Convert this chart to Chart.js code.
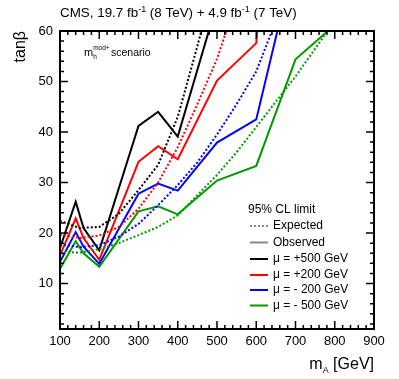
<!DOCTYPE html>
<html>
<head>
<meta charset="utf-8">
<script src="https://cdn.jsdelivr.net/npm/chart.js@4/dist/chart.umd.min.js"></script>
<style>
  html, body { margin: 0; padding: 0; background: #fff; }
  #wrap { width: 399px; height: 379px; position: relative; }
</style>
</head>
<body>
<div id="wrap"><canvas id="myChart"></canvas></div>
<script>
// axis ticks
const xTicks = [100, 200, 300, 400, 500, 600, 700, 800, 900];
const yTicks = [10, 20, 30, 40, 50, 60];

// observed limits (m_A in GeV, tan beta)
const obsMassP500 = [100, 140, 160, 200, 300, 350, 400, 500];
const obsP500 = [17, 26.2, 21, 16.6, 41.2, 44, 39.1, 65.5];
const obsMassP200 = [100, 140, 160, 200, 300, 350, 400, 500, 600, 620];
const obsP200 = [15.6, 22.9, 19, 14.7, 34.1, 37.2, 34.6, 50.2, 57.6, 75];
const obsMassM200 = [100, 140, 160, 200, 300, 350, 400, 500, 600, 700];
const obsM200 = [14.3, 20.2, 17.3, 13.9, 27.8, 29.8, 28.4, 37.9, 42.5, 75];
const obsMassM500 = [100, 140, 160, 200, 300, 350, 400, 500, 600, 700, 800];
const obsM500 = [12.9, 18.4, 16, 13.3, 24.3, 25.3, 23.7, 30.4, 33.3, 54.4, 61.2];

// expected limits
const expMass = [100, 150, 200, 250, 300, 350, 400, 450, 500, 550, 600, 650, 700, 750, 800];
const expP500 = [22.4, 21, 21.2, 23.8, 28.5, 33.5, 43, 57, 72];
const expP200 = [19.7, 19, 19.5, 21.2, 24.8, 30, 37, 45.5, 54.5, 66];
const expM200 = [17.8, 17.2, 17.6, 19.3, 21.8, 25.5, 29.5, 34, 39.5, 45.5, 52, 62];
const expM500 = [16.3, 16.1, 16.8, 18, 19.6, 21.2, 23.5, 27.5, 31.5, 36, 41, 46, 51, 56.5, 62];

const colP500 = "#000000";
const colP200 = "#ff0000";
const colM200 = "#0000ff";
const colM500 = "#009900";

const FONT = "'Liberation Sans', Arial, Helvetica, sans-serif";

const toPoints = (xs, ys) => ys.map((y, i) => ({ x: xs[i], y: y }));

const makeLine = (xs, ys, color, dashed) => ({
  data: toPoints(xs, ys),
  borderColor: color,
  backgroundColor: color,
  borderWidth: 2,
  borderDash: dashed ? [2, 2] : [],
  showLine: true,
  pointRadius: 0,
  tension: 0,
  fill: false,
});

// frame, inward ticks and all text labels
const decorations = {
  id: "decorations",
  afterDraw(chart) {
    const c = chart.ctx;
    const a = chart.chartArea;
    const xs = chart.scales.x;
    const ys = chart.scales.y;
    c.save();
    c.strokeStyle = "#000";
    c.lineWidth = 2;
    c.strokeRect(a.left, a.top, a.right - a.left, a.bottom - a.top);

    c.lineWidth = 1.5;
    c.beginPath();
    for (let v = 100; v <= 900; v += 20) {
      const px = xs.getPixelForValue(v);
      const len = v % 100 === 0 ? 8 : 4;
      c.moveTo(px, a.bottom); c.lineTo(px, a.bottom - len);
      c.moveTo(px, a.top); c.lineTo(px, a.top + len);
    }
    for (let v = 2; v <= 60; v += 2) {
      const py = ys.getPixelForValue(v);
      const len = v % 10 === 0 ? 8 : 4;
      c.moveTo(a.left, py); c.lineTo(a.left + len, py);
      c.moveTo(a.right, py); c.lineTo(a.right - len, py);
    }
    c.stroke();

    // title with superscripts
    c.fillStyle = "#000";
    c.textBaseline = "alphabetic";
    c.textAlign = "left";
    const parts = [
      ["CMS, 19.7 fb", 13.4, 0], ["-1", 9, -5], [" (8 TeV) + 4.9 fb", 13.4, 0], ["-1", 9, -5], [" (7 TeV)", 13.4, 0],
    ];
    let tx = 60;
    for (const [s, size, dy] of parts) {
      c.font = `${size}px ${FONT}`;
      c.fillText(s, tx, 17 + dy);
      tx += c.measureText(s).width;
    }

    // scenario label
    c.font = `11px ${FONT}`;
    c.fillText("m", 84, 56);
    let mx = 84 + c.measureText("m").width;
    c.font = `6.5px ${FONT}`;
    c.fillText("mod+", mx, 50);
    c.fillText("h", mx, 59);
    c.font = `10.5px ${FONT}`;
    c.fillText("scenario", 111, 56);

    // y title
    c.save();
    c.translate(25, 31);
    c.rotate(-Math.PI / 2);
    c.textAlign = "right";
    c.font = `16px ${FONT}`;
    c.fillText("tanβ", 0, 0);
    c.restore();

    // x title
    const t1 = "m", t3 = " [GeV]";
    c.font = `9px ${FONT}`;
    const wA = c.measureText("A").width;
    c.font = `16px ${FONT}`;
    const w1 = c.measureText(t1).width;
    const w3 = c.measureText(t3).width;
    let sx = 374 - (w1 + wA + w3);
    c.fillText(t1, sx, 369);
    c.font = `9px ${FONT}`;
    c.fillText("A", sx + w1, 373);
    c.font = `16px ${FONT}`;
    c.fillText(t3, sx + w1 + wA, 369);

    // legend
    c.font = `12px ${FONT}`;
    c.textBaseline = "middle";
    c.fillText("95% CL limit", 248, 210);
    const rows = [
      ["Expected", "#888", true, 226],
      ["Observed", "#888", false, 242.5],
      ["μ = +500 GeV", colP500, false, 259],
      ["μ = +200 GeV", colP200, false, 275],
      ["μ = - 200 GeV", colM200, false, 290],
      ["μ = - 500 GeV", colM500, false, 305.5],
    ];
    for (const [label, col, dashed, y] of rows) {
      c.strokeStyle = col;
      c.lineWidth = 2;
      c.setLineDash(dashed ? [2, 2] : []);
      c.beginPath();
      c.moveTo(250, y); c.lineTo(268, y);
      c.stroke();
      c.setLineDash([]);
      c.fillStyle = "#000";
      c.fillText(label, 273, y);
    }
    c.restore();
  },
};

const chart = new Chart(document.getElementById("myChart"), {
  type: "scatter",
  data: {
    datasets: [
      makeLine(expMass, expP500, colP500, true),
      makeLine(expMass, expP200, colP200, true),
      makeLine(expMass, expM200, colM200, true),
      makeLine(expMass, expM500, colM500, true),
      makeLine(obsMassP500, obsP500, colP500, false),
      makeLine(obsMassP200, obsP200, colP200, false),
      makeLine(obsMassM200, obsM200, colM200, false),
      makeLine(obsMassM500, obsM500, colM500, false),
    ],
  },
  options: {
    responsive: true,
    maintainAspectRatio: false,
    animation: false,
    layout: { padding: { left: 0, right: 25, top: 31, bottom: 0 } },
    plugins: { legend: { display: false }, tooltip: { enabled: false } },
    scales: {
      x: {
        type: "linear",
        min: 100,
        max: 900,
        afterBuildTicks: (s) => { s.ticks = xTicks.map((v) => ({ value: v })); },
        afterFit: (s) => { s.height = 50; },
        grid: { display: false, drawTicks: false },
        border: { display: false },
        ticks: { color: "#000", padding: 5, maxRotation: 0, font: { family: FONT, size: 13 } },
      },
      y: {
        type: "linear",
        min: 1,
        max: 60,
        afterBuildTicks: (s) => { s.ticks = yTicks.map((v) => ({ value: v })); },
        afterFit: (s) => { s.width = 60; },
        grid: { display: false, drawTicks: false },
        border: { display: false },
        ticks: { color: "#000", padding: 7, font: { family: FONT, size: 13 } },
      },
    },
  },
  plugins: [decorations],
});
</script>
</body>
</html>
